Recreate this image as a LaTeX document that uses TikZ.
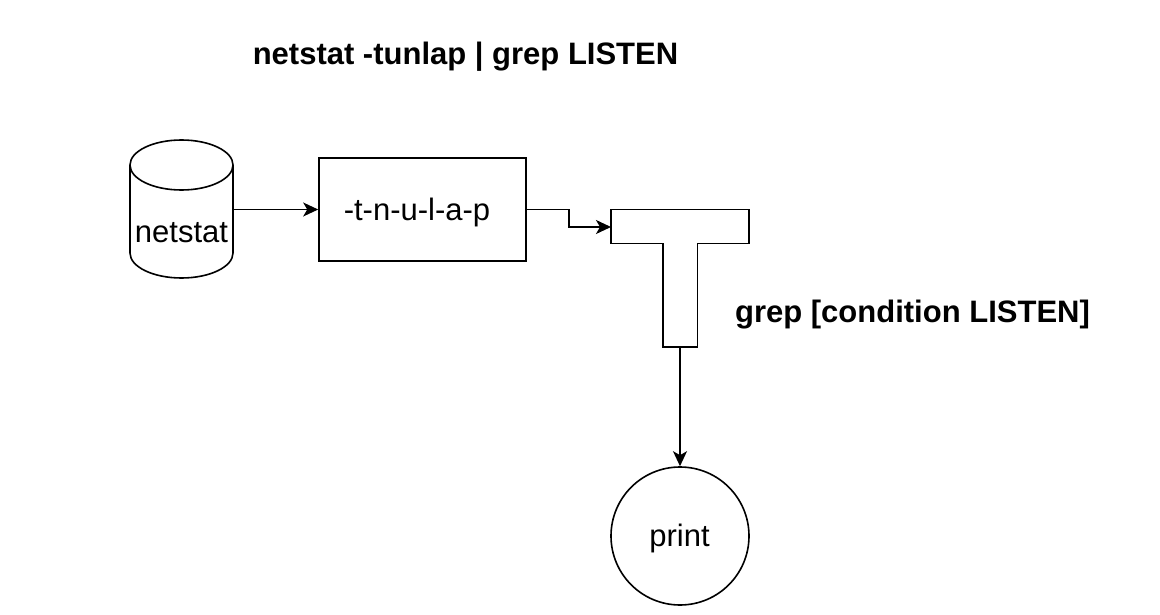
\documentclass[tikz,border=0pt]{standalone}
\usepackage{fontspec}
\setmainfont{Liberation Sans}
\usetikzlibrary{arrows.meta,shapes.geometric}
\tikzset{
  px/.style={x=1pt,y=-1pt},
  ln/.style={draw=black,line width=1.6pt},
  conn/.style={ln,-{Stealth[length=15pt,width=14pt,inset=4pt]}},
  lab/.style={font=\fontsize{31}{34}\selectfont,inner sep=0pt,anchor=center},
  blab/.style={font=\fontsize{31}{34}\selectfont\bfseries,inner sep=0pt,anchor=center}
}
\begin{document}
\begin{tikzpicture}[px]
\useasboundingbox[fill=white] (0,0) rectangle (1160,615);
\node[blab] (title) at (465.5,57) {netstat -tunlap | grep LISTEN};
% cylinder
\draw[ln] (130,165) arc[x radius=51.5,y radius=25,start angle=180,end angle=360] -- (233,253) arc[x radius=51.5,y radius=25,start angle=0,end angle=180] -- cycle;
\draw[ln] (130,165) arc[x radius=51.5,y radius=25,start angle=180,end angle=0];
\node[lab] (netstat) at (181.5,233) {netstat};
\coordinate (cylout) at (233,209.5);
\node[ln,minimum width=207pt,minimum height=103pt,inner sep=0pt] (opts) at (422.5,209.5) {};
\node[lab] (optlab) at (417,212) {-t-n-u-l-a-p};
% T shape
\draw[ln] (611,209.5) -- (749,209.5) -- (749,243.5) -- (697.5,243.5) -- (697.5,347) -- (663,347) -- (663,243.5) -- (611,243.5) -- cycle;
\coordinate (tleft) at (611,227);
\coordinate (tbottom) at (680,347);
\node[blab] (greplab) at (912.5,315) {grep [condition LISTEN]};
\node[ln,circle,minimum size=138pt,inner sep=0pt] (print) at (680,536) {};
\node[lab] (printlab) at (679.5,538) {print};
\draw[conn] (cylout) -- (opts.west);
\draw[conn] (opts.east) -- (569,209.5) -- (569,227) -- (tleft);
\draw[conn] (tbottom) -- (print.north);
\end{tikzpicture}
\end{document}
